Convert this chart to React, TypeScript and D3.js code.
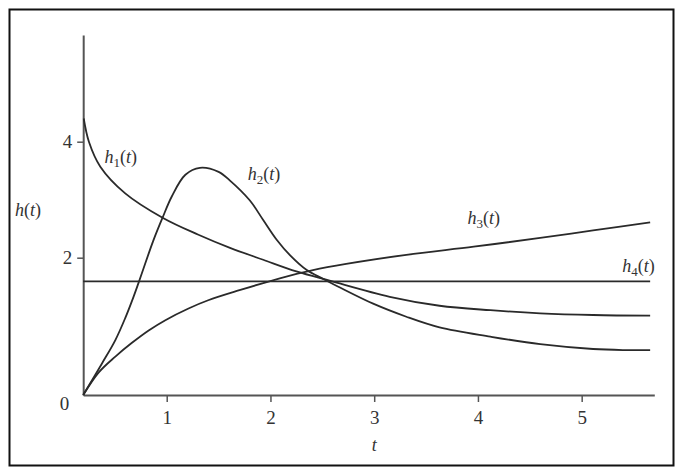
import React, { useRef, useEffect } from "react";
import * as d3 from "d3";

interface Pt {
  t: number;
  v: number;
}

// curves (t, h)
const h1: Pt[] = [
  { t: 0.2, v: 4.4 }, { t: 0.25, v: 4.0 }, { t: 0.36, v: 3.57 }, { t: 0.6, v: 3.11 },
  { t: 0.96, v: 2.69 }, { t: 1.3, v: 2.4 }, { t: 1.61, v: 2.17 }, { t: 1.93, v: 1.97 },
  { t: 2.25, v: 1.8 }, { t: 2.57, v: 1.665 }, { t: 3.15, v: 1.43 }, { t: 3.63, v: 1.3 },
  { t: 4.12, v: 1.235 }, { t: 4.6, v: 1.19 }, { t: 5.11, v: 1.165 }, { t: 5.66, v: 1.155 },
];

const h2: Pt[] = [
  { t: 0.195, v: 0 }, { t: 0.376, v: 0.46 }, { t: 0.505, v: 0.8 }, { t: 0.6, v: 1.12 },
  { t: 0.68, v: 1.43 }, { t: 0.73, v: 1.64 }, { t: 0.87, v: 2.29 }, { t: 0.96, v: 2.69 },
  { t: 1.05, v: 3.06 }, { t: 1.18, v: 3.43 }, { t: 1.32, v: 3.55 }, { t: 1.5, v: 3.48 },
  { t: 1.61, v: 3.33 }, { t: 1.8, v: 2.99 }, { t: 1.93, v: 2.65 }, { t: 2.06, v: 2.31 },
  { t: 2.19, v: 2.04 }, { t: 2.35, v: 1.82 }, { t: 2.51, v: 1.69 }, { t: 2.67, v: 1.565 },
  { t: 2.99, v: 1.33 }, { t: 3.31, v: 1.14 }, { t: 3.63, v: 0.985 }, { t: 4.12, v: 0.85 },
  { t: 4.6, v: 0.74 }, { t: 5.11, v: 0.67 }, { t: 5.4, v: 0.655 }, { t: 5.66, v: 0.655 },
];

const h3: Pt[] = [
  { t: 0.195, v: 0 }, { t: 0.345, v: 0.33 }, { t: 0.505, v: 0.56 }, { t: 0.665, v: 0.76 },
  { t: 0.826, v: 0.94 }, { t: 0.987, v: 1.09 }, { t: 1.21, v: 1.26 }, { t: 1.4, v: 1.38 },
  { t: 1.71, v: 1.53 }, { t: 2.09, v: 1.7 }, { t: 2.41, v: 1.82 }, { t: 2.73, v: 1.91 },
  { t: 3.31, v: 2.05 }, { t: 3.96, v: 2.19 }, { t: 4.6, v: 2.34 }, { t: 5.11, v: 2.47 },
  { t: 5.66, v: 2.61 },
];

const h4: Pt[] = [
  { t: 0.195, v: 1.655 }, { t: 5.66, v: 1.655 },
];

const xTicks = [1, 2, 3, 4, 5];
const yTicks = [2, 4];

// curve labels: subscript, position in data units
const curveLabels = [
  { sub: "1", t: 0.4, v: 3.63 },
  { sub: "2", t: 1.78, v: 3.34 },
  { sub: "3", t: 3.9, v: 2.58 },
  { sub: "4", t: 5.39, v: 1.79 },
];

const W = 683;
const H = 473;
const FONT = "'Liberation Serif', 'DejaVu Serif', serif";

const App: React.FC = () => {
  const svgRef = useRef<SVGSVGElement | null>(null);

  useEffect(() => {
    if (!svgRef.current) return;
    const svg = d3.select(svgRef.current);
    svg.selectAll("*").remove();

    const x = d3.scaleLinear().domain([0.195, 5.7]).range([83.2, 654.3]);
    // the printed figure is not quite linear in h, so a piecewise scale
    const y = d3.scaleLinear().domain([0, 2, 4, 5.84]).range([395, 257.7, 141.7, 35]);

    // frame
    svg.append("rect")
      .attr("x", 9.5).attr("y", 9.5)
      .attr("width", 664).attr("height", 456)
      .attr("fill", "white")
      .attr("stroke", "#111").attr("stroke-width", 2);

    // x axis
    const gx = svg.append("g")
      .attr("transform", `translate(0,${y(0)})`)
      .call(d3.axisBottom(x).tickValues(xTicks).tickSize(7).tickSizeOuter(0).tickFormat(d3.format("d")));
    gx.select(".domain").attr("stroke", "#555").attr("stroke-width", 2);
    gx.selectAll(".tick line").attr("stroke", "#555").attr("stroke-width", 1.5);
    gx.selectAll(".tick text")
      .attr("font-family", FONT).attr("font-size", 19).attr("fill", "#333")
      .attr("dy", "1.0em");

    // y axis
    const gy = svg.append("g")
      .attr("transform", `translate(${x(0.195)},0)`)
      .call(d3.axisLeft(y).tickValues(yTicks).tickSize(6).tickSizeOuter(0).tickFormat(d3.format("d")));
    gy.select(".domain").attr("stroke", "#555").attr("stroke-width", 2);
    gy.selectAll(".tick line").attr("stroke", "#555").attr("stroke-width", 1.5);
    gy.selectAll(".tick text")
      .attr("font-family", FONT).attr("font-size", 19).attr("fill", "#333")
      .attr("x", -11);

    svg.append("text")
      .attr("x", x(0.195) - 14).attr("y", y(0) + 15)
      .attr("text-anchor", "end")
      .attr("font-family", FONT).attr("font-size", 19).attr("fill", "#333")
      .text("0");

    // curves
    const line = d3.line<Pt>()
      .x((d) => x(d.t))
      .y((d) => y(d.v))
      .curve(d3.curveCatmullRom.alpha(0.5));

    [h1, h2, h3, h4].forEach((s) => {
      svg.append("path")
        .datum(s)
        .attr("d", line)
        .attr("fill", "none")
        .attr("stroke", "#2a2a2a")
        .attr("stroke-width", 1.8);
    });

    // curve labels
    curveLabels.forEach((l) => {
      const txt = svg.append("text")
        .attr("x", x(l.t)).attr("y", y(l.v))
        .attr("font-family", FONT).attr("font-size", 18).attr("fill", "#333");
      txt.append("tspan").attr("font-style", "italic").text("h");
      txt.append("tspan").attr("font-size", 13).attr("dy", 4).text(l.sub);
      txt.append("tspan").attr("dy", -4).text("(");
      txt.append("tspan").attr("font-style", "italic").text("t");
      txt.append("tspan").text(")");
    });

    // axis titles
    const yt = svg.append("text")
      .attr("x", 15).attr("y", 216)
      .attr("font-family", FONT).attr("font-size", 18).attr("fill", "#333");
    yt.append("tspan").attr("font-style", "italic").text("h");
    yt.append("tspan").text("(");
    yt.append("tspan").attr("font-style", "italic").text("t");
    yt.append("tspan").text(")");

    svg.append("text")
      .attr("x", x(3)).attr("y", 451)
      .attr("text-anchor", "middle")
      .attr("font-family", FONT).attr("font-size", 18).attr("font-style", "italic").attr("fill", "#333")
      .text("t");
  }, []);

  return (
    <svg
      ref={svgRef}
      width={W}
      height={H}
      style={{ display: "block", position: "absolute", left: 0, top: 0, background: "white" }}
    />
  );
};

export default App;
